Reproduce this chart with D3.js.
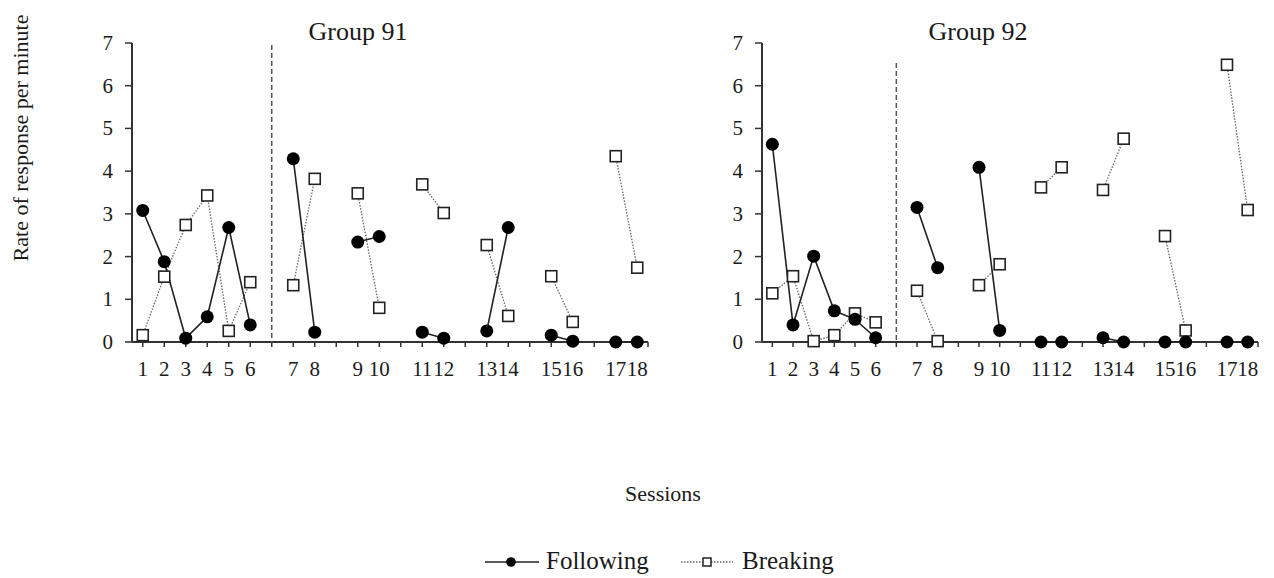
<!DOCTYPE html>
<html>
<head>
<meta charset="utf-8">
<script src="https://cdn.jsdelivr.net/npm/d3@7"></script>
<style>
  body { margin: 0; background: #fff; }
  svg { display: block; }
</style>
</head>
<body>
<svg id="chart" width="1274" height="578"></svg>
<script>
// Session slots along the x axis; null = empty slot (gap / phase change)
const slots = [1, 2, 3, 4, 5, 6, null, 7, 8, null, 9, 10, null, 11, 12, null, 13, 14, null, 15, 16, null, 17, 18];
const yTicks = [0, 1, 2, 3, 4, 5, 6, 7];

// Values per session 1..18
const g91Following = [3.08, 1.88, 0.09, 0.59, 2.68, 0.40, 4.29, 0.23, 2.34, 2.47, 0.23, 0.09, 0.26, 2.68, 0.16, 0.02, 0.00, 0.00];
const g91Breaking  = [0.16, 1.53, 2.74, 3.43, 0.26, 1.40, 1.33, 3.82, 3.48, 0.80, 3.69, 3.02, 2.27, 0.61, 1.54, 0.47, 4.35, 1.74];
const g92Following = [4.63, 0.40, 2.01, 0.73, 0.53, 0.10, 3.15, 1.74, 4.09, 0.27, 0.00, 0.00, 0.10, 0.00, 0.00, 0.00, 0.00, 0.00];
const g92Breaking  = [1.14, 1.54, 0.02, 0.16, 0.67, 0.46, 1.20, 0.02, 1.33, 1.82, 3.62, 4.09, 3.56, 4.76, 2.48, 0.27, 6.49, 3.09];

const panels = [
  { title: "Group 91", following: g91Following, breaking: g91Breaking, x0: 132, x1: 648, dashTop: 45 },
  { title: "Group 92", following: g92Following, breaking: g92Breaking, x0: 762, x1: 1258, dashTop: 63 }
];

const font = "'Liberation Serif', 'Times New Roman', serif";
const ink = "#1a1a1a";
const plotTop = 43, plotBottom = 342;

const svg = d3.select("#chart");

const y = d3.scaleLinear().domain([0, 7]).range([plotBottom, plotTop]);

panels.forEach(p => {
  const band = d3.scaleBand().domain(d3.range(slots.length)).range([p.x0, p.x1]).padding(0);
  const cx = i => band(i) + band.bandwidth() / 2;
  const g = svg.append("g");

  // rows: one per slot, value or null
  const rows = slots.map((s, i) => ({
    i,
    s,
    f: s === null ? null : p.following[s - 1],
    b: s === null ? null : p.breaking[s - 1]
  }));

  // x axis line + ticks
  g.append("line")
    .attr("x1", p.x0).attr("x2", p.x1)
    .attr("y1", plotBottom).attr("y2", plotBottom)
    .attr("stroke", "#333").attr("stroke-width", 2);
  g.selectAll(".xtick")
    .data(rows.map(r => cx(r.i)).concat([p.x1]))
    .join("line")
    .attr("x1", d => d).attr("x2", d => d)
    .attr("y1", plotBottom).attr("y2", plotBottom + 5)
    .attr("stroke", "#333").attr("stroke-width", 1.5);
  g.selectAll(".xlab")
    .data(rows.filter(r => r.s !== null))
    .join("text")
    .attr("x", d => cx(d.i))
    .attr("y", 376)
    .attr("text-anchor", "middle")
    .attr("font-family", font)
    .attr("font-size", 21)
    .attr("fill", ink)
    .text(d => d.s);

  // y axis
  g.append("line")
    .attr("x1", p.x0).attr("x2", p.x0)
    .attr("y1", y(7)).attr("y2", plotBottom)
    .attr("stroke", "#333").attr("stroke-width", 2);
  g.selectAll(".ytick")
    .data(yTicks)
    .join("line")
    .attr("x1", p.x0 - 7).attr("x2", p.x0)
    .attr("y1", d => y(d)).attr("y2", d => y(d))
    .attr("stroke", "#333").attr("stroke-width", 1.5);
  g.selectAll(".ylab")
    .data(yTicks)
    .join("text")
    .attr("x", p.x0 - 19)
    .attr("y", d => y(d) + 7)
    .attr("text-anchor", "end")
    .attr("font-family", font)
    .attr("font-size", 21)
    .attr("fill", ink)
    .text(d => d);

  // phase change line
  const slotDash = slots.indexOf(null);
  g.append("line")
    .attr("x1", cx(slotDash)).attr("x2", cx(slotDash))
    .attr("y1", p.dashTop).attr("y2", plotBottom)
    .attr("stroke", "#555").attr("stroke-width", 1.5)
    .attr("stroke-dasharray", "5,3");

  // title
  g.append("text")
    .attr("x", (p.x0 + p.x1) / 2 - 32)
    .attr("y", 40)
    .attr("text-anchor", "middle")
    .attr("font-family", font)
    .attr("font-size", 26)
    .attr("fill", ink)
    .text(p.title);

  // Breaking: dotted line with open squares
  const lineB = d3.line().defined(d => d.b !== null).x(d => cx(d.i)).y(d => y(d.b));
  g.append("path")
    .attr("d", lineB(rows))
    .attr("fill", "none")
    .attr("stroke", "#666").attr("stroke-width", 1.3)
    .attr("stroke-dasharray", "1.5,1.5");

  // Following: solid line with filled circles
  const lineF = d3.line().defined(d => d.f !== null).x(d => cx(d.i)).y(d => y(d.f));
  g.append("path")
    .attr("d", lineF(rows))
    .attr("fill", "none")
    .attr("stroke", "#222").attr("stroke-width", 1.6);

  const sq = 11;
  g.selectAll(".sq")
    .data(rows.filter(r => r.b !== null))
    .join("rect")
    .attr("x", d => cx(d.i) - sq / 2)
    .attr("y", d => y(d.b) - sq / 2)
    .attr("width", sq).attr("height", sq)
    .attr("fill", "#fff")
    .attr("stroke", "#222").attr("stroke-width", 1.6);

  g.selectAll(".dot")
    .data(rows.filter(r => r.f !== null))
    .join("circle")
    .attr("cx", d => cx(d.i))
    .attr("cy", d => y(d.f))
    .attr("r", 6.5)
    .attr("fill", "#000");
});

// axis titles
svg.append("text")
  .attr("transform", "translate(28,138) rotate(-90)")
  .attr("text-anchor", "middle")
  .attr("font-family", font)
  .attr("font-size", 22)
  .attr("fill", ink)
  .text("Rate of response per minute");

svg.append("text")
  .attr("x", 663).attr("y", 501)
  .attr("text-anchor", "middle")
  .attr("font-family", font)
  .attr("font-size", 22)
  .attr("fill", ink)
  .text("Sessions");

// legend
const legend = svg.append("g");
legend.append("line")
  .attr("x1", 485).attr("x2", 539).attr("y1", 562).attr("y2", 562)
  .attr("stroke", "#222").attr("stroke-width", 1.6);
legend.append("circle").attr("cx", 511).attr("cy", 562).attr("r", 4.8).attr("fill", "#000");
legend.append("text")
  .attr("x", 546).attr("y", 569)
  .attr("font-family", font).attr("font-size", 25).attr("fill", ink)
  .text("Following");

legend.append("line")
  .attr("x1", 681).attr("x2", 733).attr("y1", 562).attr("y2", 562)
  .attr("stroke", "#666").attr("stroke-width", 1.3)
  .attr("stroke-dasharray", "1.5,1.5");
legend.append("rect")
  .attr("x", 703).attr("y", 558).attr("width", 8).attr("height", 8)
  .attr("fill", "#fff").attr("stroke", "#222").attr("stroke-width", 1.5);
legend.append("text")
  .attr("x", 742).attr("y", 569)
  .attr("font-family", font).attr("font-size", 25).attr("fill", ink)
  .text("Breaking");
</script>
</body>
</html>
